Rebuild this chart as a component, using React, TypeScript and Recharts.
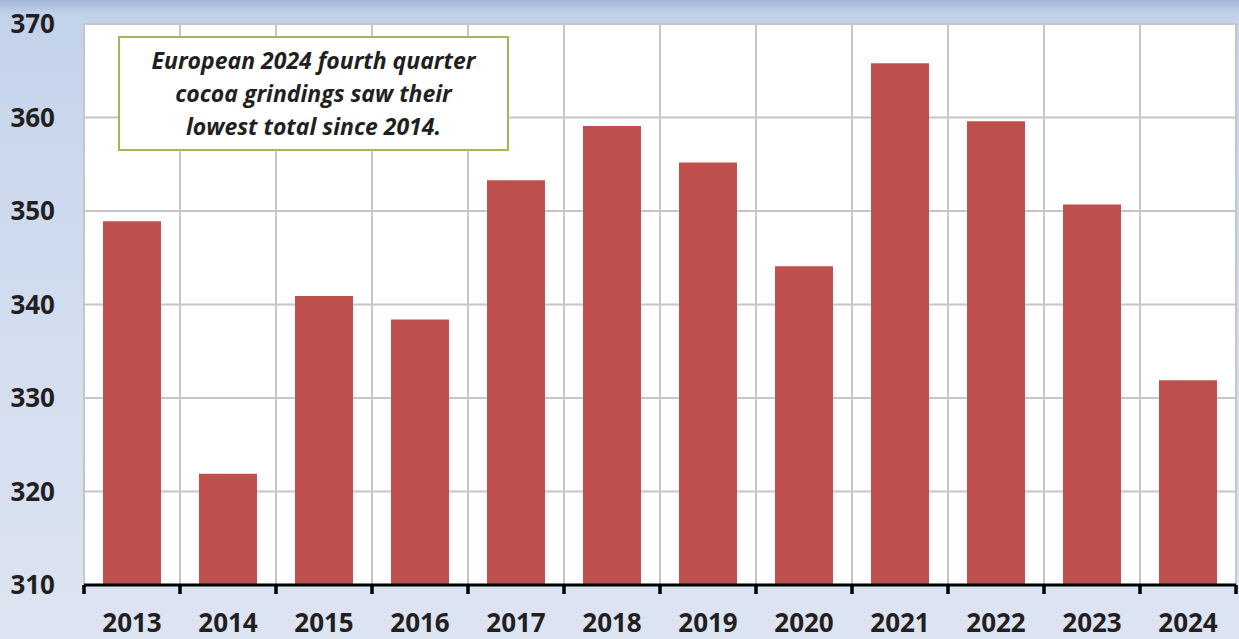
import { BarChart, Bar, XAxis, YAxis, CartesianGrid } from "recharts";

const years = ["2013", "2014", "2015", "2016", "2017", "2018", "2019", "2020", "2021", "2022", "2023", "2024"];
const grindings = [348.9, 321.9, 340.9, 338.4, 353.3, 359.1, 355.2, 344.1, 365.8, 359.6, 350.7, 331.9];
const yTicks = [310, 320, 330, 340, 350, 360, 370];
const boundaries = [0, 1, 2, 3, 4, 5, 6, 7, 8, 9, 10, 11, 12];
const note = ["European 2024 fourth quarter", "cocoa grindings saw their", "lowest total since 2014."];

const data = years.map((year, i) => ({ year, value: grindings[i], slot: i + 0.5 }));

const FONT = "'Open Sans', sans-serif";
const INK = "#231f20";

const NoLabel = () => <g />;

export default function App() {
  return (
    <div
      style={{
        position: "absolute",
        left: 0,
        top: 0,
        width: 1239,
        height: 639,
        background:
          "linear-gradient(to bottom, #a3b5d8 0px, #c2d2ea 14px, #c9d7ed 120px, #d2ddef 320px, #dde4f2 639px)",
        fontFamily: FONT,
      }}
    >
      <BarChart
        width={1239}
        height={639}
        data={data}
        margin={{ top: 24, right: 3, left: 0, bottom: 0 }}
        barCategoryGap="40%"
      >
        <CartesianGrid
          xAxisId={0}
          stroke="#c6c6c6"
          strokeWidth={2}
          fill="#ffffff"
        />
        {/* boundary axis: black baseline with tick marks between the years */}
        <XAxis
          xAxisId={0}
          dataKey="slot"
          type="number"
          domain={[0, 12]}
          ticks={boundaries}
          interval={0}
          tick={NoLabel}
          tickSize={9}
          tickLine={{ stroke: "#000", strokeWidth: 3.5 }}
          axisLine={{ stroke: "#000", strokeWidth: 3 }}
          height={8}
          allowDataOverflow
        />
        <XAxis
          xAxisId={1}
          dataKey="year"
          height={46}
          tickLine={false}
          axisLine={false}
          tickSize={0}
          tickMargin={21}
          interval={0}
          tick={{ fill: INK, fontSize: 26, fontWeight: 700, fontFamily: FONT }}
        />
        <YAxis
          width={84}
          domain={[310, 370]}
          ticks={yTicks}
          interval={0}
          tickLine={false}
          axisLine={false}
          tickSize={0}
          tickMargin={29}
          tick={{ fill: INK, fontSize: 26, fontWeight: 700, fontFamily: FONT }}
          allowDataOverflow
        />
        <Bar xAxisId={1} dataKey="value" fill="#c0504d" barSize={58} isAnimationActive={false} />
      </BarChart>
      <div
        style={{
          position: "absolute",
          left: 118,
          top: 36,
          width: 391,
          height: 115,
          boxSizing: "border-box",
          border: "2px solid #9bbb59",
          background: "#ffffff",
          display: "flex",
          flexDirection: "column",
          justifyContent: "center",
          alignItems: "center",
          fontStyle: "italic",
          fontWeight: 700,
          fontSize: 23,
          lineHeight: "33px",
          color: INK,
        }}
      >
        {note.map((line) => (
          <div key={line}>{line}</div>
        ))}
      </div>
    </div>
  );
}
